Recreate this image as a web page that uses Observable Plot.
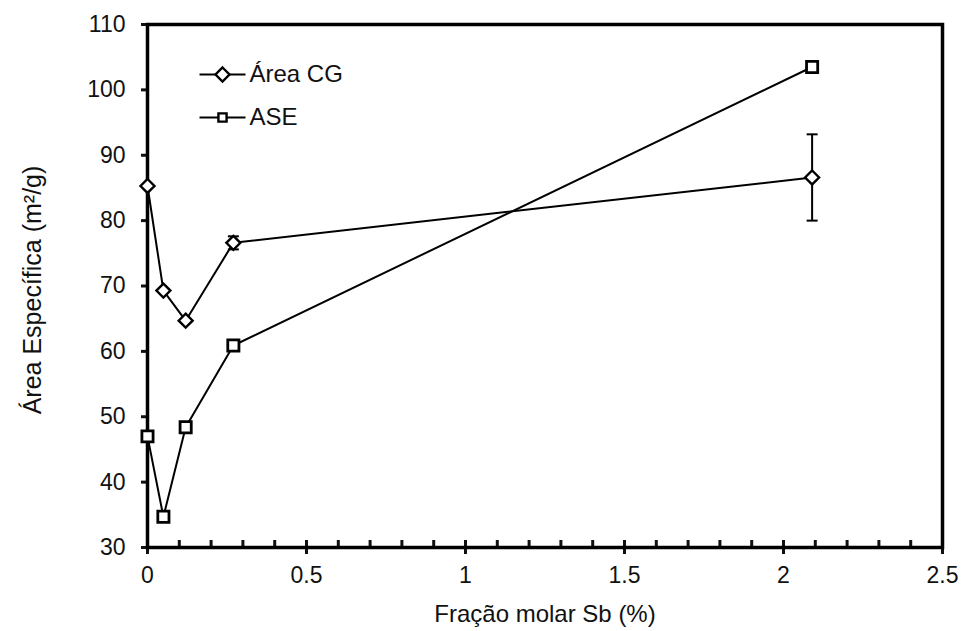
<!DOCTYPE html>
<html>
<head>
<meta charset="utf-8">
<script src="https://cdn.jsdelivr.net/npm/d3@7"></script>
<script src="https://cdn.jsdelivr.net/npm/@observablehq/plot@0.6"></script>
<style>
  html, body { margin: 0; padding: 0; background: #fff; }
</style>
</head>
<body>
<div id="chart"></div>
<script>
// ---- data ----
const xFrac = [0, 0.05, 0.12, 0.27, 2.09];
const areaCG = [85.3, 69.3, 64.7, 76.6, 86.6];
const areaCGErr = [0, 0, 0, 1.0, 6.6];
const ase = [47.0, 34.7, 48.4, 60.9, 103.5];
const seriesNames = ["Área CG", "ASE"];
const xTicks = [0, 0.5, 1, 1.5, 2, 2.5];
const xMinorTicks = d3.range(0, 26).map(i => i / 10);
const yTicks = [30, 40, 50, 60, 70, 80, 90, 100, 110];
const xLabel = "Fração molar Sb (%)";
const yLabel = "Área Específica (m²/g)";

const cg = xFrac.map((x, i) => ({x, y: areaCG[i], err: areaCGErr[i]}));
const as = xFrac.map((x, i) => ({x, y: ase[i]}));
const cgErr = cg.filter(d => d.err > 0);

const capSymbol = {draw(ctx) { ctx.moveTo(-5.5, 0); ctx.lineTo(5.5, 0); }};
const legendLine = {draw(ctx) { ctx.moveTo(-23, 0); ctx.lineTo(23, 0); }};

const ml = 147, mr = 21, mt = 24, mb = 84;
const FS_TICK = 23, FS_LEG = 24, FS_XL = 24, FS_YL = 25;
const ink = "#111";

const legendMarks = [];
const legendSymbols = ["diamond2", "square"];
const legendR = [6.3, 4.6];
seriesNames.forEach((name, i) => {
  const dy = 50 + i * 43;
  legendMarks.push(Plot.dot([name], {frameAnchor: "top-left", dx: 75, dy, symbol: legendLine, stroke: "#000", strokeWidth: 2}));
  legendMarks.push(Plot.dot([name], {frameAnchor: "top-left", dx: 75, dy, symbol: legendSymbols[i], r: legendR[i], fill: "#fff", stroke: "#000", strokeWidth: 2.4}));
  legendMarks.push(Plot.text([name], {frameAnchor: "top-left", dx: 102, dy, text: d => d, textAnchor: "start", lineAnchor: "middle", fontSize: FS_LEG, fill: ink}));
});

const chart = Plot.plot({
  width: 963,
  height: 631,
  marginLeft: ml,
  marginRight: mr,
  marginTop: mt,
  marginBottom: mb,
  style: {fontFamily: "Arial, 'Liberation Sans', sans-serif", fontSize: FS_TICK + "px", color: ink, background: "#fff"},
  x: {domain: [0, 2.5]},
  y: {domain: [30, 110]},
  marks: [
    Plot.axisY({ticks: yTicks, tickSize: 6, tickPadding: 16, strokeWidth: 3, label: null, fontSize: FS_TICK}),
    Plot.axisX({ticks: xTicks, tickSize: 7, tickPadding: 12, strokeWidth: 3, label: null, fontSize: FS_TICK,
      tickFormat: d => String(+d.toFixed(1))}),
    Plot.axisX({ticks: xMinorTicks, tickSize: -7, text: null, strokeWidth: 3, label: null}),
    Plot.frame({stroke: "#000", strokeWidth: 3.5}),
    Plot.line(cg, {x: "x", y: "y", stroke: "#000", strokeWidth: 2}),
    Plot.line(as, {x: "x", y: "y", stroke: "#000", strokeWidth: 2}),
    Plot.ruleX(cgErr, {x: "x", y1: d => d.y - d.err, y2: d => d.y + d.err, stroke: "#000", strokeWidth: 2}),
    Plot.dot(cgErr, {x: "x", y: d => d.y - d.err, symbol: capSymbol, stroke: "#000", strokeWidth: 2}),
    Plot.dot(cgErr, {x: "x", y: d => d.y + d.err, symbol: capSymbol, stroke: "#000", strokeWidth: 2}),
    Plot.dot(cg, {x: "x", y: "y", symbol: "diamond2", r: 6.3, fill: "#fff", stroke: "#000", strokeWidth: 2.4}),
    Plot.dot(as, {x: "x", y: "y", symbol: "square", r: 6.3, fill: "#fff", stroke: "#000", strokeWidth: 2.8}),
    ...legendMarks,
    Plot.text([xLabel], {frameAnchor: "bottom", dy: 67, lineAnchor: "middle", text: d => d, fontSize: FS_XL, fill: ink}),
    Plot.text([yLabel], {frameAnchor: "left", dx: -115, dy: 4, rotate: -90, textAnchor: "middle", text: d => d, fontSize: FS_YL, fill: ink})
  ]
});
document.getElementById("chart").appendChild(chart);
</script>
</body>
</html>
